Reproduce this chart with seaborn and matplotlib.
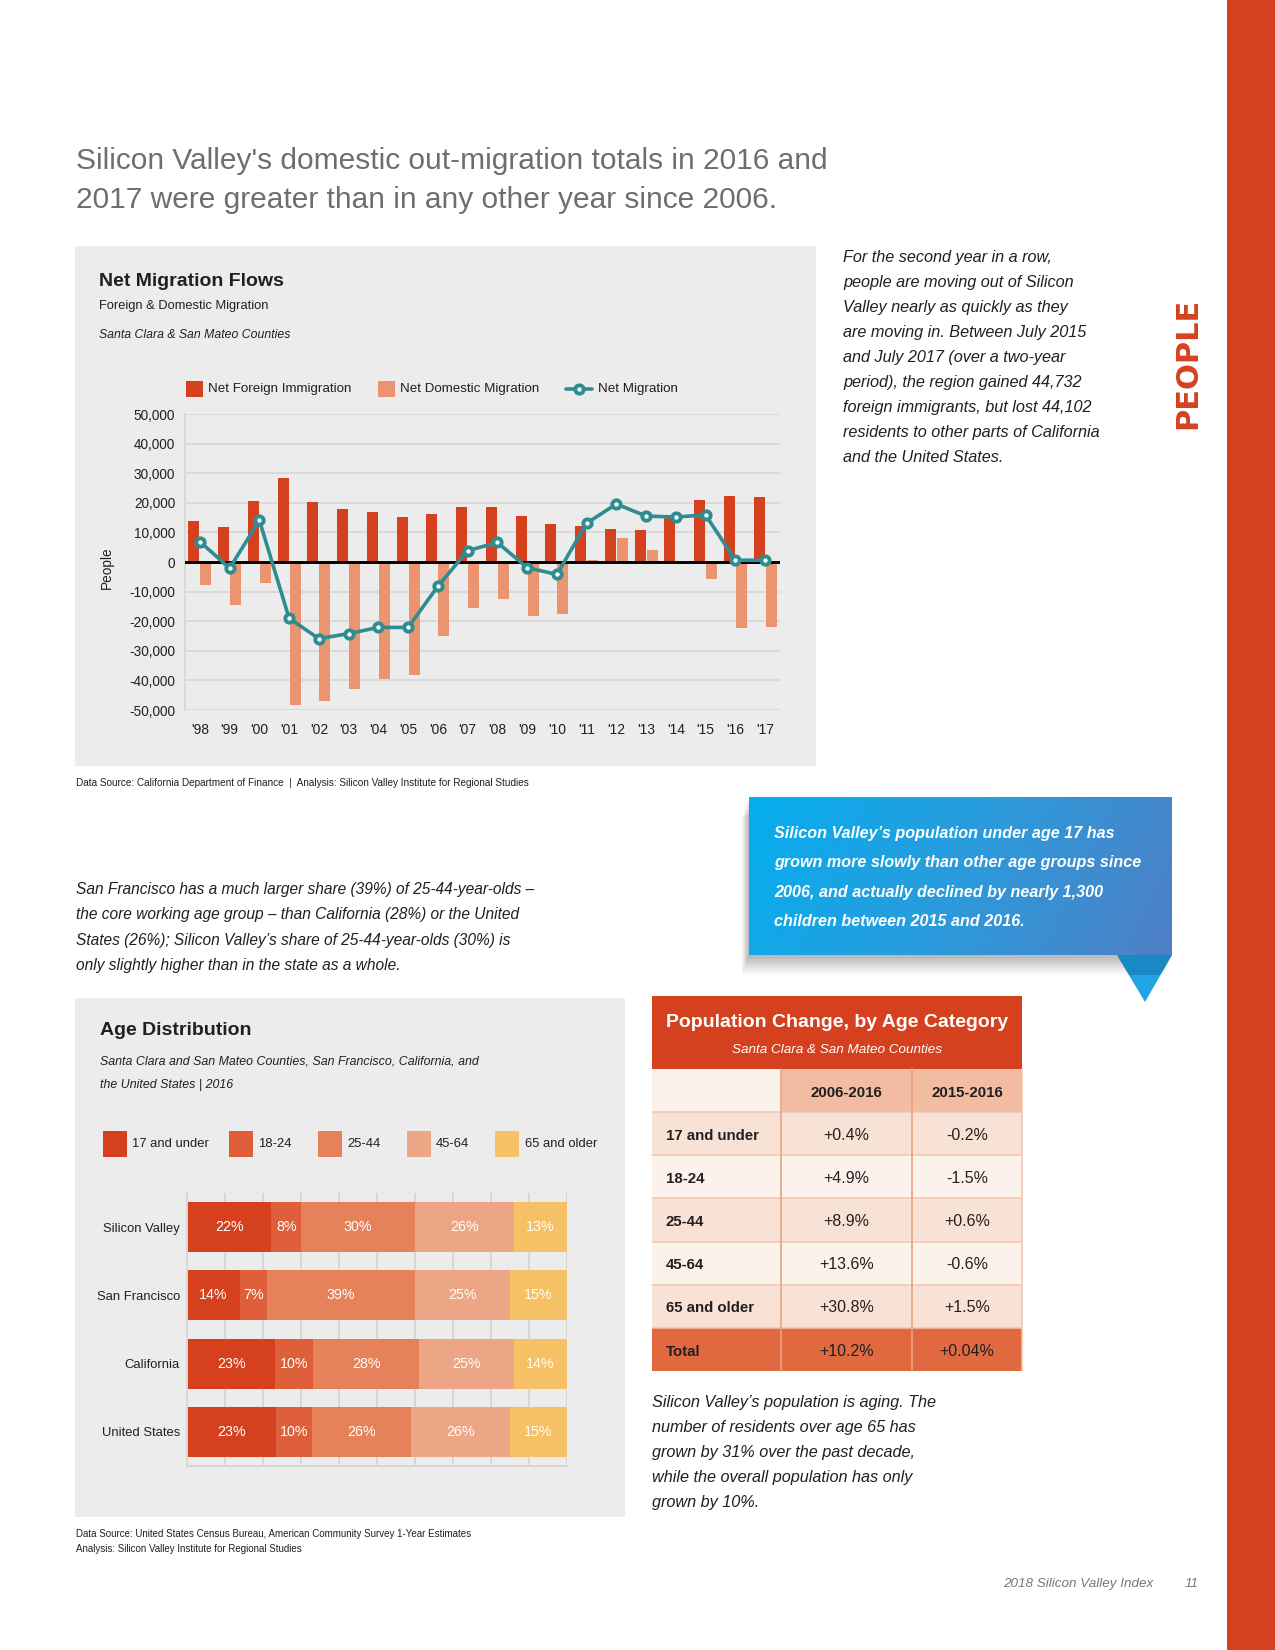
import matplotlib
matplotlib.use("Agg")
import matplotlib.pyplot as plt
import seaborn as sns
import numpy as np
import pandas as pd
from matplotlib.patches import Rectangle, Polygon
from matplotlib.lines import Line2D
from matplotlib.colors import LinearSegmentedColormap
from matplotlib import font_manager as fm

# ---------------- DATA ----------------
years = ["'98", "'99", "'00", "'01", "'02", "'03", "'04", "'05", "'06", "'07",
         "'08", "'09", "'10", "'11", "'12", "'13", "'14", "'15", "'16", "'17"]
net_foreign = [14000, 11800, 20600, 28400, 20300, 17900, 16900, 15200, 16200, 18600,
               18600, 15500, 12800, 12200, 11100, 10800, 15100, 20900, 22300, 22000]
net_domestic = [-7800, -14500, -7100, -48300, -47000, -42900, -39500, -38200, -25000, -15500,
                -12500, -18200, -17600, 700, 8100, 4100, 0, -5700, -22300, -22000]
net_migration = [6900, -2100, 14100, -19000, -25900, -24200, -22100, -22100, -8200, 3800,
                 6600, -1900, -4200, 13100, 19600, 15500, 15200, 15900, 600, 600]
migration_series = ["Net Foreign Immigration", "Net Domestic Migration", "Net Migration"]
y_ticks = [-50000, -40000, -30000, -20000, -10000, 0, 10000, 20000, 30000, 40000, 50000]

regions = ["Silicon Valley", "San Francisco", "California", "United States"]
age_groups = ["17 and under", "18-24", "25-44", "45-64", "65 and older"]
share_sv = [22.2, 7.8, 30.0, 26.0, 14.0]
share_sf = [14.0, 7.1, 38.8, 25.1, 15.0]
share_ca = [23.2, 10.0, 27.9, 24.9, 14.0]
share_us = [23.3, 9.7, 26.0, 26.0, 15.0]
label_sv = [22, 8, 30, 26, 13]
label_sf = [14, 7, 39, 25, 15]
label_ca = [23, 10, 28, 25, 14]
label_us = [23, 10, 26, 26, 15]

table_cols = ["2006-2016", "2015-2016"]
table_rows = ["17 and under", "18-24", "25-44", "45-64", "65 and older", "Total"]
chg_2006_2016 = ["+0.4%", "+4.9%", "+8.9%", "+13.6%", "+30.8%", "+10.2%"]
chg_2015_2016 = ["-0.2%", "-1.5%", "+0.6%", "-0.6%", "+1.5%", "+0.04%"]

# ---------------- STYLE ----------------
sns.set_style("white")
names = {f.name for f in fm.fontManager.ttflist}
NARROW = "Liberation Sans Narrow" if "Liberation Sans Narrow" in names else "Liberation Sans"
plt.rcParams["font.family"] = [NARROW, "DejaVu Sans"]

RED = "#d5411f"
ORANGE = "#ea9570"
TEAL = "#2f8c91"
PANEL = "#ececec"
GRID = "#d7d7d7"
DARK = "#231f20"
GRAY = "#6d6e71"
AGE_COLORS = ["#d5411f", "#df5f3a", "#e5825a", "#eca585", "#f6c064"]

W, H = 1275, 1650
fig = plt.figure(figsize=(W / 100, H / 100), dpi=100)
fig.patch.set_facecolor("white")

def rect(x0, y0, x1, y1):
    return [x0 / W, 1 - y1 / H, (x1 - x0) / W, (y1 - y0) / H]

page = fig.add_axes([0, 0, 1, 1])
page.set_xlim(0, W)
page.set_ylim(H, 0)
page.axis("off")
page.set_zorder(0)

def T(x, y, s, size, **kw):
    kw.setdefault("color", DARK)
    kw.setdefault("va", "baseline")
    page.text(x, y, s, fontsize=size, **kw)

def lines(x, y0, step, items, size, **kw):
    for i, s in enumerate(items):
        T(x, y0 + i * step, s, size, **kw)

# red band and section label
page.add_patch(Rectangle((1227, 0), 48, H, color=RED, lw=0))
page.text(1188, 363, "PEOPLE", rotation=90, fontsize=22, fontweight="bold",
          color=RED, ha="center", va="center", family="DejaVu Sans")

# Title
T(76, 169, "Silicon Valley's domestic out-migration totals in 2016 and", 21.5, color=GRAY)
T(76, 208, "2017 were greater than in any other year since 2006.", 21.5, color=GRAY)

# ---------------- Panel 1: Net Migration Flows ----------------
page.add_patch(Rectangle((75, 246), 741, 520, color=PANEL, lw=0))
T(99, 286, "Net Migration Flows", 14, fontweight="bold")
T(99, 309, "Foreign & Domestic Migration", 9.3)
T(99, 338, "Santa Clara & San Mateo Counties", 8.8, style="italic")

# legend
page.add_patch(Rectangle((186, 381), 17, 16, color=RED, lw=0))
T(208, 389, migration_series[0], 9.6, va="center")
page.add_patch(Rectangle((378, 381), 17, 16, color=ORANGE, lw=0))
T(400, 389, migration_series[1], 9.6, va="center")
page.add_line(Line2D([566, 592], [389, 389], color=TEAL, lw=2.6))
page.add_line(Line2D([579], [389], marker="o", ms=6, mfc="white", mec=TEAL, mew=2.8))
T(598, 389, migration_series[2], 9.6, va="center")

ax1 = fig.add_axes(rect(185, 414, 780, 710))
ax1.set_zorder(2)
ax1.patch.set_alpha(0)
df_m = pd.DataFrame({
    "year": years * 2,
    "value": net_foreign + net_domestic,
    "series": [migration_series[0]] * len(years) + [migration_series[1]] * len(years),
})
sns.barplot(data=df_m, x="year", y="value", hue="series", order=years,
            hue_order=migration_series[:2], palette=[RED, ORANGE], saturation=1,
            width=0.8, gap=0.08, errorbar=None, legend=False, linewidth=0, ax=ax1)
ax1.axhline(0, color="black", lw=2.1, zorder=3)
sns.lineplot(x=np.arange(len(years)), y=net_migration, color=TEAL, lw=2.6,
             marker="o", markersize=6, markerfacecolor="white", markeredgecolor=TEAL,
             markeredgewidth=2.8, ax=ax1, zorder=4)
ax1.set_xlim(-0.5, len(years) - 0.5)
ax1.set_ylim(-50000, 50000)
ax1.set_yticks(y_ticks)
ax1.set_yticklabels([f"{v:,}" for v in y_ticks])
ax1.set_xticks(range(len(years)))
ax1.set_xticklabels(years)
ax1.set_xlabel("")
ax1.set_ylabel("")
ax1.set_axisbelow(True)
ax1.yaxis.grid(True, color=GRID, lw=1.3)
ax1.xaxis.grid(False)
for s in ["top", "right", "bottom"]:
    ax1.spines[s].set_visible(False)
ax1.spines["left"].set_color(GRID)
ax1.spines["left"].set_linewidth(1.3)
ax1.tick_params(axis="y", length=0, pad=7, labelsize=9.8, labelcolor=DARK)
ax1.tick_params(axis="x", length=0, pad=9, labelsize=10, labelcolor=DARK)
page.text(107, 568, "People", rotation=90, fontsize=9.8, color=DARK, ha="center", va="center")

T(76, 786, "Data Source: California Department of Finance  |  Analysis: Silicon Valley Institute for Regional Studies", 7.2)

# right paragraph
lines(843, 262, 25, [
    "For the second year in a row,",
    "people are moving out of Silicon",
    "Valley nearly as quickly as they",
    "are moving in. Between July 2015",
    "and July 2017 (over a two-year",
    "period), the region gained 44,732",
    "foreign immigrants, but lost 44,102",
    "residents to other parts of California",
    "and the United States.",
], 11.7, style="italic")

# ---------------- Callout ----------------
for k in range(1, 16):
    page.add_patch(Rectangle((749 - k * 0.5, 797 + k * 1.3), 423, 158, color="black",
                             alpha=0.018, lw=0, zorder=1))
cmap = LinearSegmentedColormap.from_list("cb", ["#05aeee", "#2b9bdc", "#4f7fc5"])
gx, gy = np.meshgrid(np.linspace(0, 1, 300), np.linspace(0, 1, 60))
page.imshow(0.85 * gx + 0.15 * gy, cmap=cmap, extent=(749, 1172, 955, 797),
            aspect="auto", zorder=2, interpolation="bicubic")
page.add_patch(Polygon([(1117, 955), (1172, 955), (1145, 1002)], closed=True,
                       color="#22a3e2", lw=0, zorder=2))
page.add_patch(Polygon([(1117, 955), (1172, 955), (1160, 975), (1129, 975)], closed=True,
                       color="#1270ab", alpha=0.5, lw=0, zorder=2))
lines(774, 838, 29.3, [
    "Silicon Valley’s population under age 17 has",
    "grown more slowly than other age groups since",
    "2006, and actually declined by nearly 1,300",
    "children between 2015 and 2016.",
], 11.6, style="italic", fontweight="bold", color="white", zorder=3)

# left paragraph
lines(76, 894, 25.3, [
    "San Francisco has a much larger share (39%) of 25-44-year-olds –",
    "the core working age group – than California (28%) or the United",
    "States (26%); Silicon Valley’s share of 25-44-year-olds (30%) is",
    "only slightly higher than in the state as a whole.",
], 11.2, style="italic")

# ---------------- Panel 2: Age Distribution ----------------
page.add_patch(Rectangle((75, 998), 550, 519, color=PANEL, lw=0))
T(100, 1035, "Age Distribution", 14, fontweight="bold")
T(100, 1065, "Santa Clara and San Mateo Counties, San Francisco, California, and", 8.9, style="italic")
T(100, 1088, "the United States | 2016", 8.9, style="italic")
leg_x = [(103, 132), (229, 258), (318, 347), (407, 436), (495, 525)]
for (sx, tx), g, c in zip(leg_x, age_groups, AGE_COLORS):
    page.add_patch(Rectangle((sx, 1131), 24, 26, color=c, lw=0))
    T(tx, 1144, g, 9.4, va="center")

ax2 = fig.add_axes(rect(187, 1193, 567, 1466))
ax2.set_zorder(2)
ax2.patch.set_alpha(0)
shares = [share_sv, share_sf, share_ca, share_us]
labels = [label_sv, label_sf, label_ca, label_us]
df_a = pd.DataFrame([(r, g, s) for r, row in zip(regions, shares) for g, s in zip(age_groups, row)],
                    columns=["region", "group", "share"])
df_a["cum"] = df_a.groupby("region", sort=False)["share"].cumsum()
for k in reversed(range(len(age_groups))):
    sub = df_a[df_a["group"] == age_groups[k]]
    sns.barplot(data=sub, x="cum", y="region", order=regions, orient="h",
                color=AGE_COLORS[k], saturation=1, width=0.73, errorbar=None,
                linewidth=0, ax=ax2)
for i, r in enumerate(regions):
    sub = df_a[df_a["region"] == r].reset_index(drop=True)
    for j in range(len(age_groups)):
        ax2.text(sub.loc[j, "cum"] - sub.loc[j, "share"] / 2, i, f"{labels[i][j]}%",
                 color="white", fontsize=10.3, ha="center", va="center")
ax2.set_xlim(0, 100)
ax2.set_xticks(range(0, 101, 10))
ax2.set_xticklabels([])
ax2.set_xlabel("")
ax2.set_ylabel("")
ax2.set_axisbelow(True)
ax2.xaxis.grid(True, color=GRID, lw=1.4)
ax2.yaxis.grid(False)
for s in ["top", "right"]:
    ax2.spines[s].set_visible(False)
for s in ["left", "bottom"]:
    ax2.spines[s].set_color(GRID)
    ax2.spines[s].set_linewidth(1.4)
ax2.tick_params(axis="x", length=0)
ax2.tick_params(axis="y", length=0, pad=5, labelsize=9.4, labelcolor=DARK)

T(76, 1537, "Data Source: United States Census Bureau, American Community Survey 1-Year Estimates", 7.0)
T(76, 1552, "Analysis: Silicon Valley Institute for Regional Studies", 7.0)

# ---------------- Table ----------------
cx = [652, 781, 912, 1022]
page.add_patch(Rectangle((652, 996), 370, 73, color=RED, lw=0))
T(837, 1027, "Population Change, by Age Category", 14, fontweight="bold", color="white", ha="center")
T(837, 1053, "Santa Clara & San Mateo Counties", 9.7, style="italic", color="white", ha="center")
hy0, hy1 = 1069, 1112
page.add_patch(Rectangle((cx[0], hy0), cx[1] - cx[0], hy1 - hy0, color="#fbf1eb", lw=0))
for c in range(2):
    page.add_patch(Rectangle((cx[c + 1], hy0), cx[c + 2] - cx[c + 1], hy1 - hy0, color="#f1bca1", lw=0))
    T((cx[c + 1] + cx[c + 2]) / 2, 1097, table_cols[c], 10.8, fontweight="bold", ha="center")
rh = 43.2
for i, name in enumerate(table_rows):
    y0 = hy1 + i * rh
    if name == "Total":
        bg = "#e0693f"
    else:
        bg = "#f8e2d6" if i % 2 == 0 else "#fcf2ec"
    page.add_patch(Rectangle((cx[0], y0), cx[3] - cx[0], rh, color=bg, lw=0))
    yb = y0 + rh / 2 + 6
    T(666, yb, name, 10.8, fontweight="bold")
    T((cx[1] + cx[2]) / 2, yb, chg_2006_2016[i], 11.5, ha="center")
    T((cx[2] + cx[3]) / 2, yb, chg_2015_2016[i], 11.5, ha="center")
    if i > 0:
        page.add_line(Line2D([cx[0], cx[3]], [y0, y0], color="#f3c6ae", lw=1.1))
page.add_line(Line2D([cx[0], cx[3]], [hy1, hy1], color="#f3c6ae", lw=1.1))
tb = hy1 + len(table_rows) * rh
for xv in cx[1:3]:
    page.add_line(Line2D([xv, xv], [hy0, tb], color="#eba282", lw=1.2))
page.add_line(Line2D([cx[3], cx[3]], [hy0, tb], color="#f3c6ae", lw=1.1))

lines(652, 1407, 25, [
    "Silicon Valley’s population is aging. The",
    "number of residents over age 65 has",
    "grown by 31% over the past decade,",
    "while the overall population has only",
    "grown by 10%.",
], 11.7, style="italic")

# footer
T(1003, 1587, "2018 Silicon Valley Index", 9.7, style="italic", color="#777777")
T(1185, 1587, "11", 9.7, style="italic", color="#777777")

fig.savefig("out.png", dpi=100, facecolor="white")
